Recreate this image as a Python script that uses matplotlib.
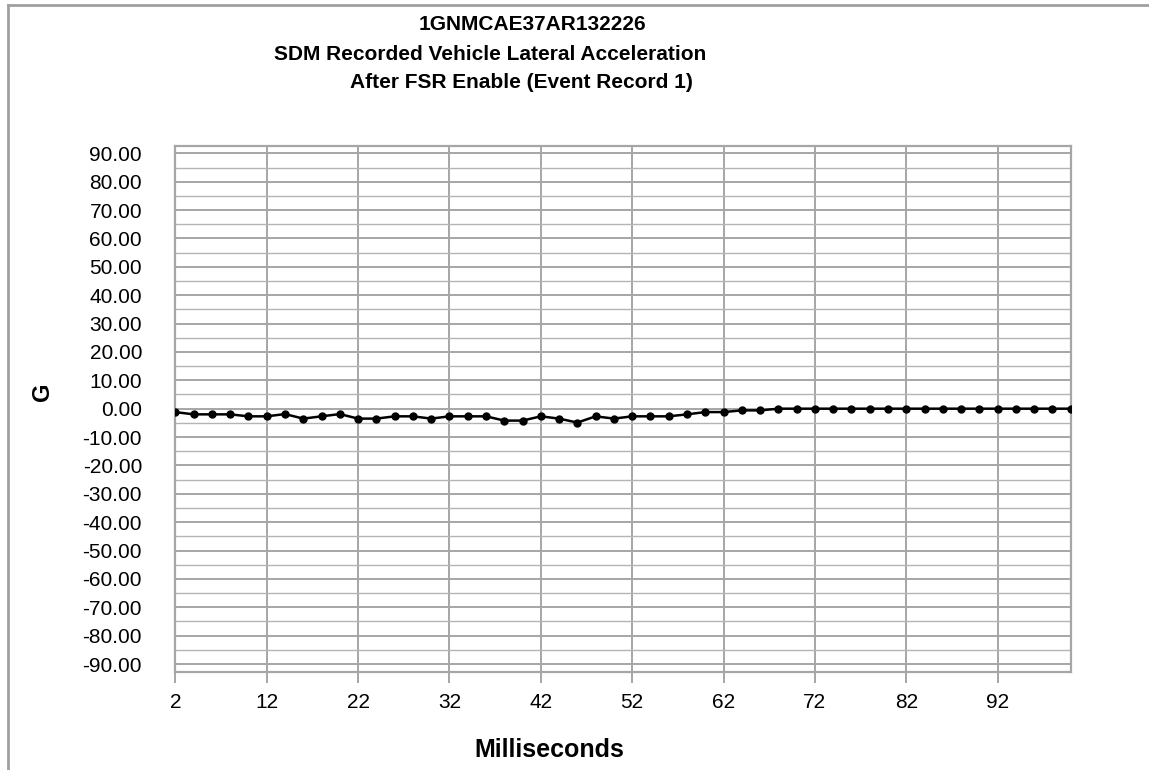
import matplotlib.pyplot as plt
from matplotlib.lines import Line2D
from matplotlib.ticker import MultipleLocator

# SDM lateral acceleration samples, every 2 ms
ms = list(range(2, 101, 2))
g_values = [
    -1.2, -2.0, -2.0, -2.0, -2.7, -2.7, -1.9, -3.5, -2.7, -1.9,
    -3.5, -3.5, -2.7, -2.7, -3.5, -2.7, -2.7, -2.7, -4.2, -4.2,
    -2.7, -3.5, -4.9, -2.7, -3.5, -2.7, -2.7, -2.7, -2.0, -1.2,
    -1.2, -0.6, -0.6, 0.0, 0.0, 0.0, 0.0, 0.0, 0.0, 0.0,
    0.0, 0.0, 0.0, 0.0, 0.0, 0.0, 0.0, 0.0, 0.0, 0.0,
]
x_ticks = list(range(2, 93, 10))
title_lines = [
    "1GNMCAE37AR132226",
    "SDM Recorded Vehicle Lateral Acceleration",
    "After FSR Enable (Event Record 1)",
]

GRID = "#a6a6a6"

plt.rcParams["font.family"] = ["Liberation Sans", "DejaVu Sans"]

fig = plt.figure(figsize=(11.49, 7.70), dpi=100)
ax = fig.add_axes([0.1526, 0.1277, 0.9319 - 0.1526, 0.8108 - 0.1277])

ax.plot(ms, g_values, color="black", lw=1.8, marker="o", markersize=5, zorder=5)

ax.set_xlim(2, 100)
ax.set_ylim(-92.7, 92.7)
ax.set_xticks(x_ticks)
ax.yaxis.set_minor_locator(MultipleLocator(5))
ax.set_yticks([v for v in range(-90, 91, 10)])
ax.set_yticklabels([f"{v:.2f}" for v in range(-90, 91, 10)])

ax.grid(True, which="major", axis="both", color=GRID, lw=1.4)
ax.grid(True, which="minor", axis="y", color="#b4b4b4", lw=1.0)
ax.set_axisbelow(True)

ax.tick_params(axis="x", direction="out", length=8, width=1.4, color=GRID,
               labelsize=15, pad=7)
ax.tick_params(axis="y", which="both", length=0, labelsize=15, pad=24)
for sp in ax.spines.values():
    sp.set_color(GRID)
    sp.set_linewidth(1.6)

fig.text(42 / 1149, 1 - 392 / 770, "G", rotation=90, fontsize=17,
         fontweight="bold", ha="center", va="center")
fig.text(549 / 1149, 1 - 750 / 770, "Milliseconds", fontsize=18,
         fontweight="bold", ha="center", va="center")

title_x = [532, 490, 521]
title_y = [25, 54, 82]
for line, tx, ty in zip(title_lines, title_x, title_y):
    fig.text(tx / 1149, 1 - ty / 770, line, fontsize=15, fontweight="bold",
             ha="center", va="center")

# outer chart border (top and left edges only)
fig.add_artist(Line2D([7.5 / 1149, 7.5 / 1149], [0, 1 - 4.7 / 770],
                      transform=fig.transFigure, color="#a0a0a0", lw=2))
fig.add_artist(Line2D([7.5 / 1149, 1], [1 - 4.7 / 770, 1 - 4.7 / 770],
                      transform=fig.transFigure, color="#a0a0a0", lw=2))

fig.savefig("out.png", dpi=100)
